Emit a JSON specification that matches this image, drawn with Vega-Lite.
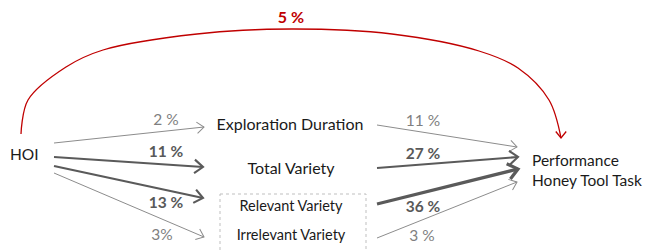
{
  "$schema": "https://vega.github.io/schema/vega-lite/v6.json",
  "width": 646,
  "height": 251,
  "autosize": {"type": "fit", "contains": "padding"},
  "padding": 0,
  "background": "white",
  "config": {"view": {"stroke": null}, "text": {"font": "Lato"}},
  "datasets": {
    "box": [{"x": 220, "y": 194, "x2": 366, "y2": 262}],
    "arc": [
      {"i": 0, "x": 21, "y": 134},
      {"i": 1, "x": 28, "y": 100},
      {"i": 2, "x": 66, "y": 67},
      {"i": 3, "x": 103, "y": 50},
      {"i": 4, "x": 197, "y": 34},
      {"i": 5, "x": 292, "y": 29},
      {"i": 6, "x": 392, "y": 34},
      {"i": 7, "x": 479, "y": 51},
      {"i": 8, "x": 518, "y": 68},
      {"i": 9, "x": 549, "y": 100},
      {"i": 10, "x": 561, "y": 138}
    ],
    "arcHead": [{"x": 561, "y": 138, "angle": 90}],
    "edges": [
      {"from": "HOI", "to": "Exploration Duration", "pct": 2, "sig": "ns", "x": 54, "y": 143, "x2": 204, "y2": 127},
      {"from": "HOI", "to": "Total Variety", "pct": 11, "sig": "sig", "x": 54, "y": 157, "x2": 203, "y2": 167},
      {"from": "HOI", "to": "Relevant Variety", "pct": 13, "sig": "sig", "x": 54, "y": 166, "x2": 203, "y2": 198},
      {"from": "HOI", "to": "Irrelevant Variety", "pct": 3, "sig": "ns", "x": 54, "y": 173, "x2": 204, "y2": 237},
      {"from": "Exploration Duration", "to": "Performance", "pct": 11, "sig": "ns", "x": 377, "y": 125, "x2": 517, "y2": 147},
      {"from": "Total Variety", "to": "Performance", "pct": 27, "sig": "sig", "x": 377, "y": 168, "x2": 518, "y2": 157},
      {"from": "Relevant Variety", "to": "Performance", "pct": 36, "sig": "strong", "x": 377, "y": 204, "x2": 518, "y2": 169},
      {"from": "Irrelevant Variety", "to": "Performance", "pct": 3, "sig": "ns", "x": 377, "y": 238, "x2": 517, "y2": 182}
    ],
    "pctLabels": [
      {"text": "2 %", "sig": "ns", "x": 166, "y": 120},
      {"text": "11 %", "sig": "sig", "x": 166, "y": 152},
      {"text": "13 %", "sig": "sig", "x": 166, "y": 203},
      {"text": "3%", "sig": "ns", "x": 162, "y": 235},
      {"text": "11 %", "sig": "ns", "x": 423, "y": 121},
      {"text": "27 %", "sig": "sig", "x": 423, "y": 154},
      {"text": "36 %", "sig": "sig", "x": 423, "y": 207},
      {"text": "3 %", "sig": "ns", "x": 422, "y": 236}
    ],
    "centerNodes": [
      {"text": "Exploration Duration", "level": "main", "x": 290, "y": 125},
      {"text": "Total Variety", "level": "main", "x": 291, "y": 169},
      {"text": "Relevant Variety", "level": "sub", "x": 291, "y": 207},
      {"text": "Irrelevant Variety", "level": "sub", "x": 291, "y": 236}
    ],
    "leftNodes": [
      {"text": "HOI", "x": 10, "y": 155},
      {"text": "Performance", "x": 532, "y": 161},
      {"text": "Honey Tool Task", "x": 532, "y": 181}
    ],
    "title": [{"text": "5 %", "x": 291, "y": 18}]
  },
  "encoding": {
    "x": {"field": "x", "type": "quantitative", "scale": {"domain": [0, 646], "nice": false, "zero": false}, "axis": null},
    "y": {"field": "y", "type": "quantitative", "scale": {"domain": [0, 251], "nice": false, "zero": false, "reverse": true}, "axis": null}
  },
  "layer": [
    {
      "data": {"name": "box"},
      "mark": {"type": "rect", "fill": null, "stroke": "#bfbfbf", "strokeWidth": 1, "strokeDash": [3, 3], "clip": true},
      "encoding": {"x2": {"field": "x2"}, "y2": {"field": "y2"}}
    },
    {
      "data": {"name": "arc"},
      "mark": {"type": "line", "interpolate": "catmull-rom", "color": "#c00000", "strokeWidth": 1.3},
      "encoding": {"order": {"field": "i", "type": "quantitative"}}
    },
    {
      "data": {"name": "arcHead"},
      "mark": {"type": "point", "shape": "M-1,-0.8L0,0L-1,0.8", "filled": false, "stroke": "#c00000", "strokeWidth": 1.3, "size": 170, "opacity": 1},
      "encoding": {"angle": {"field": "angle", "type": "quantitative", "scale": null}}
    },
    {
      "data": {"name": "edges"},
      "mark": {"type": "rule"},
      "encoding": {
        "x2": {"field": "x2"},
        "y2": {"field": "y2"},
        "strokeWidth": {"field": "sig", "type": "nominal", "scale": {"domain": ["ns", "sig", "strong"], "range": [1, 3.2, 5.5]}, "legend": null},
        "color": {"field": "sig", "type": "nominal", "scale": {"domain": ["ns", "sig", "strong"], "range": ["#8c8c8c", "#5a5a5a", "#5a5a5a"]}, "legend": null}
      }
    },
    {
      "data": {"name": "edges"},
      "transform": [{"calculate": "atan2(datum.y2 - datum.y, datum.x2 - datum.x) * 180 / PI", "as": "angle"}],
      "mark": {"type": "point", "shape": "M-1,-0.8L0,0L-1,0.8", "filled": false, "opacity": 1},
      "encoding": {
        "x": {"field": "x2", "type": "quantitative"},
        "y": {"field": "y2", "type": "quantitative"},
        "angle": {"field": "angle", "type": "quantitative", "scale": null},
        "size": {"field": "sig", "type": "nominal", "scale": {"domain": ["ns", "sig", "strong"], "range": [200, 380, 560]}, "legend": null},
        "strokeWidth": {"field": "sig", "type": "nominal", "scale": {"domain": ["ns", "sig", "strong"], "range": [1, 3.2, 5.5]}, "legend": null},
        "stroke": {"field": "sig", "type": "nominal", "scale": {"domain": ["ns", "sig", "strong"], "range": ["#8c8c8c", "#5a5a5a", "#5a5a5a"]}, "legend": null}
      }
    },
    {
      "data": {"name": "pctLabels"},
      "transform": [{"filter": "datum.sig == 'ns'"}],
      "mark": {"type": "text", "fontSize": 15.5, "color": "#7f7f7f", "baseline": "middle", "align": "center"},
      "encoding": {"text": {"field": "text"}}
    },
    {
      "data": {"name": "pctLabels"},
      "transform": [{"filter": "datum.sig != 'ns'"}],
      "mark": {"type": "text", "fontSize": 15.5, "fontWeight": "bold", "color": "#595959", "baseline": "middle", "align": "center"},
      "encoding": {"text": {"field": "text"}}
    },
    {
      "data": {"name": "centerNodes"},
      "transform": [{"filter": "datum.level == 'main'"}],
      "mark": {"type": "text", "color": "#1a1a1a", "baseline": "middle", "align": "center", "fontSize": 16},
      "encoding": {"text": {"field": "text"}}
    },
    {
      "data": {"name": "centerNodes"},
      "transform": [{"filter": "datum.level == 'sub'"}],
      "mark": {"type": "text", "color": "#1a1a1a", "baseline": "middle", "align": "center", "fontSize": 14.5},
      "encoding": {"text": {"field": "text"}}
    },
    {
      "data": {"name": "leftNodes"},
      "mark": {"type": "text", "color": "#1a1a1a", "baseline": "middle", "align": "left", "fontSize": 15.5},
      "encoding": {"text": {"field": "text"}}
    },
    {
      "data": {"name": "title"},
      "mark": {"type": "text", "color": "#c00000", "baseline": "middle", "align": "center", "fontSize": 16, "fontWeight": "bold"},
      "encoding": {"text": {"field": "text"}}
    }
  ]
}
